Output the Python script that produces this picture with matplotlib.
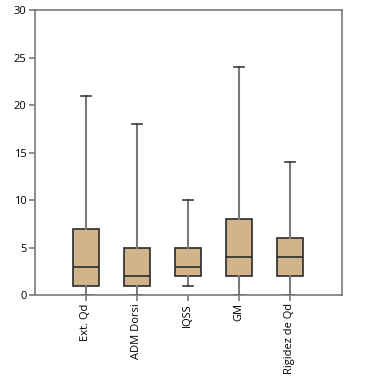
import matplotlib
matplotlib.use("Agg")
import matplotlib.pyplot as plt

plt.rcParams['font.family'] = ['Open Sans', 'DejaVu Sans']

categories = ["Ext. Qd", "ADM Dorsi", "IQSS", "GM", "Rigidez de Qd"]
whislo = [0, 0, 1, 0, 0]
q1 = [1, 1, 2, 2, 2]
med = [3, 2, 3, 4, 4]
q3 = [7, 5, 5, 8, 6]
whishi = [21, 18, 10, 24, 14]

stats = []
for i, name in enumerate(categories):
    stats.append({"label": name, "whislo": whislo[i], "q1": q1[i], "med": med[i],
                  "q3": q3[i], "whishi": whishi[i], "fliers": []})

fig = plt.figure(figsize=(3.88, 3.79), dpi=100)
ax = fig.add_axes([0.090, 0.2216, 0.791, 0.752])

ax.bxp(stats, positions=range(1, 6), widths=0.51, patch_artist=True, showfliers=False,
       boxprops=dict(facecolor="#D2B48C", edgecolor="#2b2b2b", linewidth=1.2),
       medianprops=dict(color="#2b2b2b", linewidth=1.2),
       whiskerprops=dict(color="#7a7a7a", linewidth=1.5),
       capprops=dict(color="#3a3a3a", linewidth=1.2),
       capwidths=0.2)

ax.set_xlim(0, 6.02)
ax.set_ylim(0, 30)
ax.set_yticks([0, 5, 10, 15, 20, 25, 30])
ax.set_xticks(range(1, 6))
ax.set_xticklabels(categories, rotation=90, fontsize=8)
ax.tick_params(axis='y', labelsize=8, length=4, color="#7a7a7a", width=1.2, pad=2)
ax.tick_params(axis='x', length=4, color="#7a7a7a", width=1.2, pad=2)
for s in ax.spines.values():
    s.set_color("#7a7a7a")
    s.set_linewidth(1.2)

fig.savefig("out.png", dpi=100)
